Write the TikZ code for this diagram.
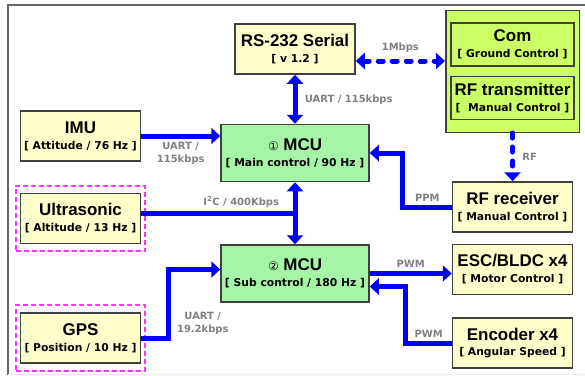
\documentclass[tikz,border=0pt]{standalone}
\usepackage{fontspec}
\setmainfont{DejaVu Sans}
\newfontfamily\titlefont{Liberation Sans}
\usepackage{xcolor}
\usepackage{tikz}
\usetikzlibrary{arrows.meta,positioning,fit,calc,backgrounds}
\definecolor{boxfill}{HTML}{FFFFCC}
\definecolor{mcufill}{HTML}{A6F5A6}
\definecolor{radiofill}{HTML}{CCFF66}
\definecolor{edge}{HTML}{404040}
\definecolor{linkblue}{HTML}{0000FF}
\definecolor{lblgray}{HTML}{808080}
\definecolor{zonepink}{HTML}{FF33FF}
\newcommand\blktitle{\titlefont\bfseries\fontsize{17}{19}\selectfont}

\begin{document}
\begin{tikzpicture}[x=1bp, y=-1bp, box/.style={draw=edge, line width=1.5bp, fill=boxfill, align=center, minimum width=120bp, minimum height=50bp, inner sep=2bp, font=\bfseries\fontsize{10.8}{16}\selectfont}, mcu/.style={box, fill=mcufill, minimum width=148bp, minimum height=57bp}, inbox/.style={box, fill=radiofill, minimum width=123bp, minimum height=43bp}, group/.style={draw=edge, line width=1.5bp, fill=radiofill, inner xsep=4.5bp, inner ysep=12bp}, zone/.style={draw=zonepink, line width=2bp, dash pattern=on 5bp off 3bp, inner xsep=4bp, inner ysep=7bp}, lbl/.style={text=lblgray, font=\bfseries\fontsize{10}{13}\selectfont, align=center}, link/.style={draw=linkblue, line width=5bp, -{Triangle[length=9bp,width=16bp]}}, dlink/.style={link, {Triangle[length=9bp,width=16bp]}-{Triangle[length=9bp,width=16bp]}}, dashlink/.style={dash pattern=on 5bp off 9bp, line cap=round}]
\useasboundingbox (0,0) rectangle (585,375);
\draw[edge!80, line width=1.5bp] (8,375) -- (8,5) -- (585,5);
\draw[gray!15, line width=1bp] (8,374) -- (585,374);
\node[mcu] (mcuA) at (295,153) {{\blktitle{\normalfont\fontsize{12}{12}\selectfont ①} MCU}\\{[ Main control / 90 Hz ]}};
\node[mcu,below=62bp of mcuA] (mcuB) {{\blktitle{\normalfont\fontsize{12}{12}\selectfont ②} MCU}\\{[ Sub control / 180 Hz ]}};
\node[box,above=49bp of mcuA] (serial) {{\blktitle RS-232 Serial}\\{[ v 1.2 ]}};
\node[box,left=79bp of mcuA,yshift=17bp] (imu) {{\blktitle IMU}\\{[ Attitude / 76 Hz ]}};
\node[box,below=31bp of imu] (ultra) {{\blktitle Ultrasonic}\\{[ Altitude / 13 Hz ]}};
\node[box,below=68bp of ultra] (gps) {{\blktitle GPS}\\{[ Position / 10 Hz ]}};
\node[box,right=82bp of mcuA,yshift=-54bp] (rfrx) {{\blktitle RF receiver}\\{[ Manual Control ]}};
\node[box,below=11bp of rfrx] (esc) {{\blktitle ESC/BLDC x4}\\{[ Motor Control ]}};
\node[box,below=22bp of esc] (enc) {{\blktitle Encoder x4}\\{[ Angular Speed ]}};
\node[inbox,above=61bp of rfrx] (rftx) {{\blktitle RF transmitter}\\{[~ Manual Control ]}};
\node[inbox,above=9bp of rftx] (com) {{\blktitle Com}\\{[ Ground Control ]}};
\begin{scope}[on background layer]
\node[group,fit=(com)(rftx)] (radio) {};
\end{scope}
\node[zone,fit=(ultra)] (ultraZone) {};
\node[zone,fit=(gps)] (gpsZone) {};
\coordinate (bus) at ($(mcuA.south)!0.5!(mcuB.north)$);
\draw[dlink] (serial)--node[lbl,right=4bp]{UART / 115kbps}(mcuA);
\draw[dlink,dashlink] ([yshift=-12bp]serial.east)--node[lbl,above=3bp]{1Mbps}([yshift=-12bp]serial.east -| radio.west);
\draw[link,dashlink] (rfrx |- radio.south)--node[lbl,right=4bp]{RF}(rfrx.north);
\draw[link] (imu)--node[lbl,below]{UART /\\115kbps}(imu -| mcuA.west);
\draw[link] (rfrx.west)--node[lbl,above]{PPM}++(-49,0) |- (mcuA.east);
\draw[dlink] (mcuA)--(mcuB);
\draw[link,-] (ultra.east |- bus)--node[lbl,above,pos=0.65]{I\textsuperscript{2}C / 400Kbps}(bus);
\draw[link] (gps.east)--++(27,0) |- node[lbl,pos=0.11,right=3bp]{UART /\\19.2kbps}([yshift=4bp]mcuB.west);
\draw[link] (mcuB.east)--node[lbl,above]{PWM}(mcuB.east -| esc.west);
\draw[link] (enc.west)--node[lbl,above]{PWM}++(-46,0) |- ([yshift=-13bp]mcuB.east);
\end{tikzpicture}
\end{document}
